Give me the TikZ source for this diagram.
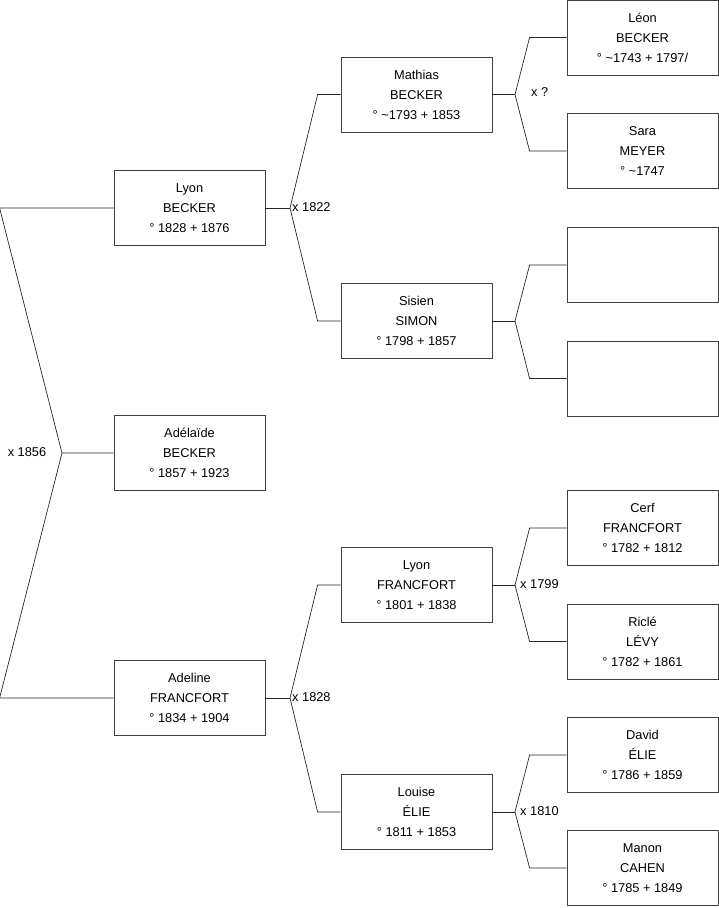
\documentclass[tikz,border=0pt]{standalone}
\usepackage{fontspec}
\setmainfont{Liberation Sans}
\usepackage{tikz}

\begin{document}
\begin{tikzpicture}[
  x=1pt,y=-1pt,
  person/.style={draw=black!75,line width=0.8pt,minimum width=151pt,minimum height=75pt,
                 inner sep=0pt,align=center,font=\fontsize{12.8}{20}\selectfont,fill=white},
  mariage/.style={inner sep=1pt,font=\fontsize{12.8}{14}\selectfont},
  link/.style={line width=0.7pt,draw=black!85}
]
\useasboundingbox (0,0) rectangle (719,908);

% generation 1
\node[person] (lyonb) at (189.5,208) {Lyon\\BECKER\\° 1828 + 1876};
\node[person] (adelaide) at (189.5,453) {Adélaïde\\BECKER\\° 1857 + 1923};
\node[person] (adeline) at (189.5,698) {Adeline\\FRANCFORT\\° 1834 + 1904};

% generation 2
\node[person] (mathias) at (416.5,94.5) {Mathias\\BECKER\\° \textasciitilde 1793 + 1853};
\node[person] (sisien) at (416.5,321) {Sisien\\SIMON\\° 1798 + 1857};
\node[person] (lyonf) at (416.5,585) {Lyon\\FRANCFORT\\° 1801 + 1838};
\node[person] (louise) at (416.5,812) {Louise\\ÉLIE\\° 1811 + 1853};

% generation 3
\node[person] (leon) at (642.5,37.5) {Léon\\BECKER\\° \textasciitilde 1743 + 1797/};
\node[person] (sara) at (642.5,151) {Sara\\MEYER\\° \textasciitilde 1747};
\node[person] (vide1) at (642.5,265) {};
\node[person] (vide2) at (642.5,378.5) {};
\node[person] (cerf) at (642.5,528) {Cerf\\FRANCFORT\\° 1782 + 1812};
\node[person] (ricle) at (642.5,641.5) {Riclé\\LÉVY\\° 1782 + 1861};
\node[person] (david) at (642.5,755) {David\\ÉLIE\\° 1786 + 1859};
\node[person] (manon) at (642.5,868) {Manon\\CAHEN\\° 1785 + 1849};

% mariages
\coordinate (m0) at (62,0 |- adelaide.west);
\coordinate (m1) at (290,0 |- lyonb.east);
\coordinate (m2) at (290,0 |- adeline.east);
\coordinate (m3) at (515,0 |- mathias.east);
\coordinate (m4) at (515,0 |- sisien.east);
\coordinate (m5) at (515,0 |- lyonf.east);
\coordinate (m6) at (515,0 |- louise.east);

\node[mariage] (x1856) at (27,452) {x 1856};
\node[mariage,anchor=west] (x1822) at (291,207) {x 1822};
\node[mariage,anchor=west] (x1828) at (291,697) {x 1828};
\node[mariage,anchor=west] (xinc) at (530,92) {x ?};
\node[mariage,anchor=west] (x1799) at (519,584) {x 1799};
\node[mariage,anchor=west] (x1810) at (519,811) {x 1810};

\draw[link] (lyonb.west) -- ++(-114,0) -- (m0) -- (adelaide.west);
\draw[link] (adeline.west) -- ++(-114,0) -- (m0);

\draw[link] (lyonb.east) -- (m1);
\draw[link] (mathias.west) -- ++(-23,0) -- (m1);
\draw[link] (sisien.west) -- ++(-23,0) -- (m1);

\draw[link] (adeline.east) -- (m2);
\draw[link] (lyonf.west) -- ++(-23,0) -- (m2);
\draw[link] (louise.west) -- ++(-23,0) -- (m2);

\draw[link] (mathias.east) -- (m3);
\draw[link] (leon.west) -- ++(-37,0) -- (m3);
\draw[link] (sara.west) -- ++(-37,0) -- (m3);

\draw[link] (sisien.east) -- (m4);
\draw[link] (vide1.west) -- ++(-37,0) -- (m4);
\draw[link] (vide2.west) -- ++(-37,0) -- (m4);

\draw[link] (lyonf.east) -- (m5);
\draw[link] (cerf.west) -- ++(-37,0) -- (m5);
\draw[link] (ricle.west) -- ++(-37,0) -- (m5);

\draw[link] (louise.east) -- (m6);
\draw[link] (david.west) -- ++(-37,0) -- (m6);
\draw[link] (manon.west) -- ++(-37,0) -- (m6);
\end{tikzpicture}
\end{document}
